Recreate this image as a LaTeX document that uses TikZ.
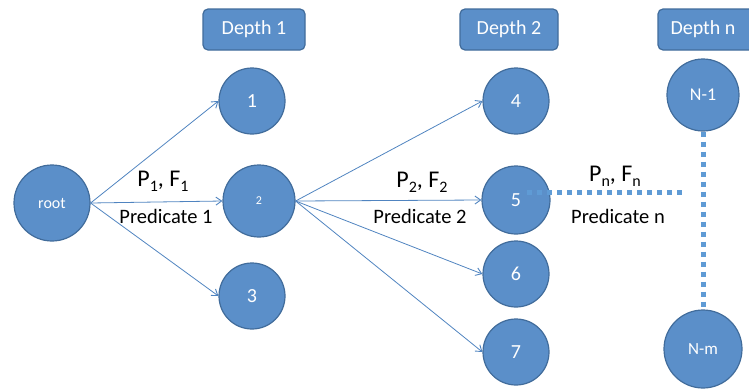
\documentclass[tikz,border=0pt]{standalone}
\usepackage{fontspec}
\setmainfont{Carlito}
\usetikzlibrary{arrows.meta}
\definecolor{cfill}{RGB}{91,143,201}
\definecolor{cborder}{RGB}{65,108,155}
\definecolor{cline}{RGB}{80,132,192}
\definecolor{cdot}{RGB}{95,155,213}
\newcommand{\lowidx}[1]{\raisebox{-0.45ex}{\fontsize{16}{16}\selectfont #1}}
\begin{document}
\begin{tikzpicture}[x=1pt,y=-1pt,
  circ/.style={circle,fill=cfill,draw=cborder,line width=1.2pt,inner sep=0pt,text=white,font=\fontsize{20}{20}\selectfont},
  depthbox/.style={rounded corners=5pt,fill=cfill,draw=cborder,line width=1.2pt,text=white,font=\fontsize{20}{20}\selectfont},
  arr/.style={draw=cline,line width=0.8pt,-{Straight Barb[angle=70:7pt,line width=0.9pt]}},
  dots/.style={draw=cdot,line width=5pt,dash pattern=on 5pt off 5pt},
  pf/.style={font=\fontsize{24}{24}\selectfont},
  pred/.style={font=\fontsize{20.5}{20.5}\selectfont}]
\useasboundingbox (0,0) rectangle (749,389);
% depth boxes
\draw[depthbox] (203,9) rectangle (305,50) node[midway] (d1) {Depth 1};
\draw[depthbox] (460,9) rectangle (558,50) node[midway] (d2) {Depth 2};
\draw[depthbox] (658,9) rectangle (760,50);
\node[text=white,font=\fontsize{20}{20}\selectfont] (dn) at (703,29.5) {Depth n};
% circles
\node[circ,minimum size=76pt,font=\fontsize{16}{16}\selectfont] (root) at (52,203) {root};
\node[circ,minimum size=66pt] (n1) at (252,101) {1};
\node[circ,minimum size=72pt,font=\fontsize{12}{12}\selectfont] (n2) at (259,201) {2};
\node[circ,minimum size=66pt] (n3) at (252,296) {3};
\node[circ,minimum size=66pt] (n4) at (516,101) {4};
\node[circ,minimum size=68pt] (n5) at (516,200) {5};
\node[circ,minimum size=66pt] (n6) at (516,274) {6};
\node[circ,minimum size=66pt] (n7) at (516,352) {7};
\node[circ,minimum size=72pt,font=\fontsize{18}{18}\selectfont] (nn1) at (703,95) {N-1};
\node[circ,minimum size=78pt,font=\fontsize{17}{17}\selectfont] (nm) at (703,349) {N-m};
% arrows
\draw[arr] (root.east) -- (n1.west);
\draw[arr] (root.east) -- (n2.west);
\draw[arr] (root.east) -- (n3.west);
\draw[arr] (n2.east) -- (n4.west);
\draw[arr] (n2.east) -- (n5.west);
\draw[arr] (n2.east) -- (n6.west);
\draw[arr] (n2.east) -- (n7.west);
% dotted lines
\coordinate (h1) at (527,192);
\coordinate (h2) at (686,192);
\draw[dots] (h1) -- (h2);
\draw[dots] (nn1.south) -- (nm.north);
% labels
\node[pf] (l1) at (163,181) {P\lowidx{1}, F\lowidx{1}};
\node[pred] (p1) at (166,216) {Predicate 1};
\node[pf] (l2) at (422,182) {P\lowidx{2}, F\lowidx{2}};
\node[pred] (p2) at (420,216) {Predicate 2};
\node[pf] (ln) at (615,176) {P\lowidx{n}, F\lowidx{n}};
\node[pred] (pn) at (618,216) {Predicate n};
\end{tikzpicture}
\end{document}
